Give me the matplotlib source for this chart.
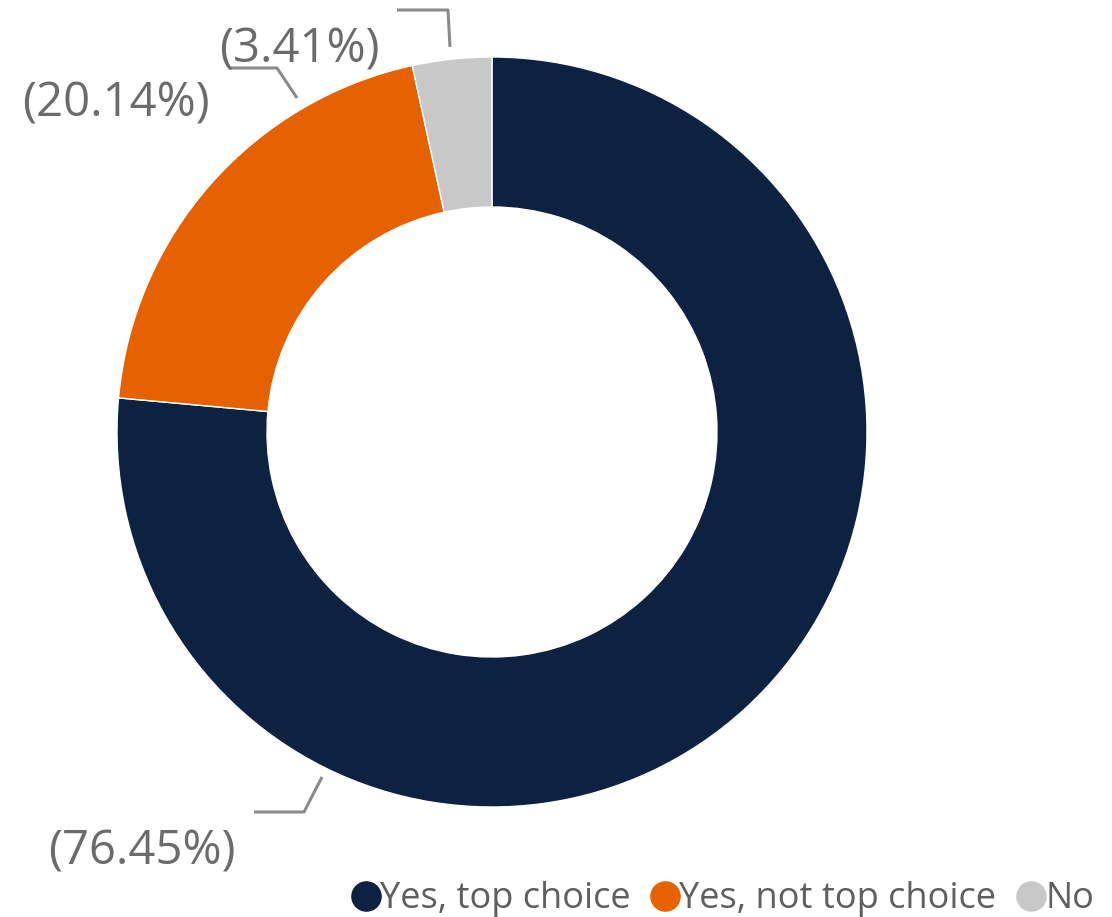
import matplotlib.pyplot as plt
from matplotlib.lines import Line2D

# data
categories = ['Yes, top choice', 'Yes, not top choice', 'No']
shares = [76.45, 20.14, 3.41]
colors = ['#0d2240', '#e66100', '#c8c8c8']

plt.rcParams['font.family'] = ['Open Sans', 'DejaVu Sans']
W, H = 1112, 917

fig = plt.figure(figsize=(W / 100, H / 100), dpi=100)
ax = fig.add_axes([0, 0, 1, 1])
ax.set_xlim(0, W)
ax.set_ylim(0, H)
ax.set_aspect('equal')
ax.axis('off')

# donut
wedges, _ = ax.pie(shares, colors=colors, startangle=90, counterclock=False,
                   center=(492, H - 432), radius=375,
                   wedgeprops=dict(width=150, edgecolor='white', linewidth=1))
ax.set_xlim(0, W)
ax.set_ylim(0, H)

# data labels with leader lines (pixel layout, y measured from top)
label_color = '#6b6b6b'
line_color = '#8a8a8a'
layout = [
    dict(text=(142, 852), line=[(322, 777), (304, 812), (254, 812)]),
    dict(text=(116, 104), line=[(297, 98), (277, 68), (230, 68)]),
    dict(text=(299, 50), line=[(450, 47), (448, 10), (397, 10)]),
]
for val, lay in zip(shares, layout):
    xs = [p[0] for p in lay['line']]
    ys = [H - p[1] for p in lay['line']]
    ax.plot(xs, ys, color=line_color, lw=2.2, solid_capstyle='butt')
    ax.text(lay['text'][0], H - lay['text'][1], f'({val:.2f}%)',
            ha='center', va='center', fontsize=34, color=label_color)

# legend
handles = [Line2D([], [], marker='o', linestyle='none', markersize=21,
                  markerfacecolor=c, markeredgecolor=c) for c in colors]
leg = ax.legend(handles, categories, loc='lower right', ncol=3,
                bbox_to_anchor=(1.0, -0.02), frameon=False, fontsize=26,
                handletextpad=-0.1, columnspacing=0.45, handlelength=1.0,
                borderaxespad=0.1)
for t in leg.get_texts():
    t.set_color('#5f5f5f')

fig.savefig('out.png', dpi=100)
